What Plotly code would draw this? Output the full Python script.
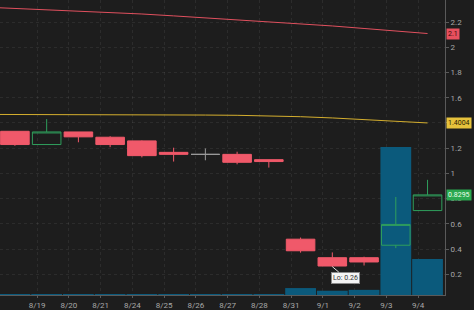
import plotly.graph_objects as go

dates = ["8/18", "8/19", "8/20", "8/21", "8/24", "8/25", "8/26", "8/27",
         "8/28", "8/31", "9/1", "9/2", "9/3", "9/4"]
open_ = [1.334, 1.229, 1.329, 1.287, 1.258, 1.167, 1.151, 1.151, 1.109, 0.478, 0.331, 0.331, 0.430, 0.705]
high = [1.334, 1.431, 1.329, 1.295, 1.262, 1.204, 1.198, 1.172, 1.109, 0.491, 0.373, 0.339, 0.813, 0.949]
low = [1.219, 1.229, 1.247, 1.208, 1.127, 1.094, 1.104, 1.072, 1.046, 0.371, 0.26, 0.269, 0.407, 0.705]
close = [1.229, 1.329, 1.290, 1.229, 1.141, 1.151, 1.151, 1.088, 1.094, 0.386, 0.265, 0.297, 0.595, 0.8295]
volume = [0.2, 0.25, 0.2, 0.2, 0.25, 0.2, 0.2, 0.2, 0.25, 2.35, 1.45, 1.75, 50.2, 12.2]
# moving averages start one session earlier (8/17) so they run off the left edge
ma_dates = ["8/17"] + dates
ma_long = [2.32, 2.31, 2.30, 2.29, 2.28, 2.265, 2.25, 2.235, 2.22, 2.205, 2.19, 2.17, 2.15, 2.13, 2.11]
ma_mid = [1.468, 1.468, 1.468, 1.467, 1.466, 1.465, 1.464, 1.463, 1.461, 1.458, 1.45, 1.44, 1.428, 1.415, 1.4004]
price_ticks = [0.2, 0.4, 0.6, 0.8, 1.0, 1.2, 1.4, 1.6, 1.8, 2.0, 2.2]
price_tick_text = ["0.2", "0.4", "0.6", "0.8", "1", "1.2", "", "1.6", "1.8", "2", "2.2"]

idx = list(range(len(dates)))
ma_idx = [i - 1 for i in range(len(ma_dates))]
RED = "#f0596a"
GREEN = "#2f9e5c"
GRAY = "#9a9a9a"
BG = "#1d1d1d"

fig = go.Figure()

# volume (base axis, drawn underneath)
fig.add_trace(go.Bar(x=idx, y=volume, marker_color="#0b5a7c", marker_line_width=0,
                     yaxis="y", hoverinfo="skip"))

# moving averages
fig.add_trace(go.Scatter(x=ma_idx, y=ma_long, mode="lines", line=dict(color="#e0505e", width=1),
                         yaxis="y2", hoverinfo="skip"))
fig.add_trace(go.Scatter(x=ma_idx, y=ma_mid, mode="lines", line=dict(color="#d4ae2e", width=1),
                         yaxis="y2", hoverinfo="skip"))

# candles
norm = [i for i in idx if open_[i] != close[i]]
doji = [i for i in idx if open_[i] == close[i]]
fig.add_trace(go.Candlestick(
    x=norm, open=[open_[i] for i in norm], high=[high[i] for i in norm],
    low=[low[i] for i in norm], close=[close[i] for i in norm],
    increasing=dict(line=dict(color=GREEN, width=1), fillcolor="rgba(0,0,0,0)"),
    decreasing=dict(line=dict(color=RED, width=1), fillcolor=RED),
    yaxis="y2", hoverinfo="skip"))
fig.add_trace(go.Candlestick(
    x=doji, open=[open_[i] for i in doji], high=[high[i] for i in doji],
    low=[low[i] for i in doji], close=[close[i] for i in doji],
    increasing=dict(line=dict(color=GRAY, width=1), fillcolor=GRAY),
    decreasing=dict(line=dict(color=GRAY, width=1), fillcolor=GRAY),
    yaxis="y2", hoverinfo="skip"))

tick_idx = idx[1:]
fig.update_layout(
    width=474, height=310,
    margin=dict(l=0, r=29, t=0, b=12),
    paper_bgcolor=BG, plot_bgcolor=BG,
    showlegend=False,
    bargap=0.03, boxgap=0.1, boxgroupgap=0, boxmode="overlay",
    font=dict(family="Roboto", size=8, color="#a8a8a8"),
    xaxis=dict(
        range=[-0.47, 13.55], rangeslider=dict(visible=False),
        tickmode="array", tickvals=[i - 0.3 for i in tick_idx], ticktext=[dates[i] for i in tick_idx],
        showline=True, linecolor="#5a5a5a", linewidth=1,
        ticks="outside", ticklen=2, tickcolor="#5a5a5a",
        showgrid=True, gridcolor="rgba(255,255,255,0.07)", griddash="dot",
        zeroline=False, tickfont=dict(size=8, color="#a8a8a8"), fixedrange=True,
    ),
    yaxis=dict(range=[0, 100], visible=False, showgrid=False, fixedrange=True),
    yaxis2=dict(
        overlaying="y", side="right", range=[0.035, 2.376],
        tickmode="array", tickvals=price_ticks, ticktext=price_tick_text,
        showline=True, linecolor="#5a5a5a", linewidth=1,
        ticks="outside", ticklen=3, tickcolor="#5a5a5a",
        showgrid=True, gridcolor="rgba(255,255,255,0.07)", griddash="dot",
        zeroline=False, tickfont=dict(size=8, color="#a8a8a8"), fixedrange=True,
    ),
)

badges = [(ma_long[-1], "2.1", "#e8505e", "#3a0808"),
          (ma_mid[-1], "1.4004", "#e6c23c", "#2a2200"),
          (close[-1], "0.8295", "#2aa850", "#eaffea")]
for val, txt, bg, fg in badges:
    fig.add_annotation(x=1, xref="paper", xanchor="left", xshift=1, y=val, yref="y2",
                       text=txt, showarrow=False, bgcolor=bg, font=dict(size=7, color=fg),
                       borderpad=1)

lo_i = low.index(min(low))
fig.add_annotation(x=lo_i, y=low[lo_i], xref="x", yref="y2", text="Lo: " + f"{low[lo_i]:.2f}",
                   showarrow=True, arrowhead=0, arrowwidth=1, arrowcolor="#dddddd",
                   ax=13, ay=11, bgcolor="#f4f4f4", bordercolor="#8a8a8a", borderwidth=1,
                   borderpad=1, font=dict(size=7, color="#333333"))

fig.write_html("out.html", config={"displayModeBar": False})
